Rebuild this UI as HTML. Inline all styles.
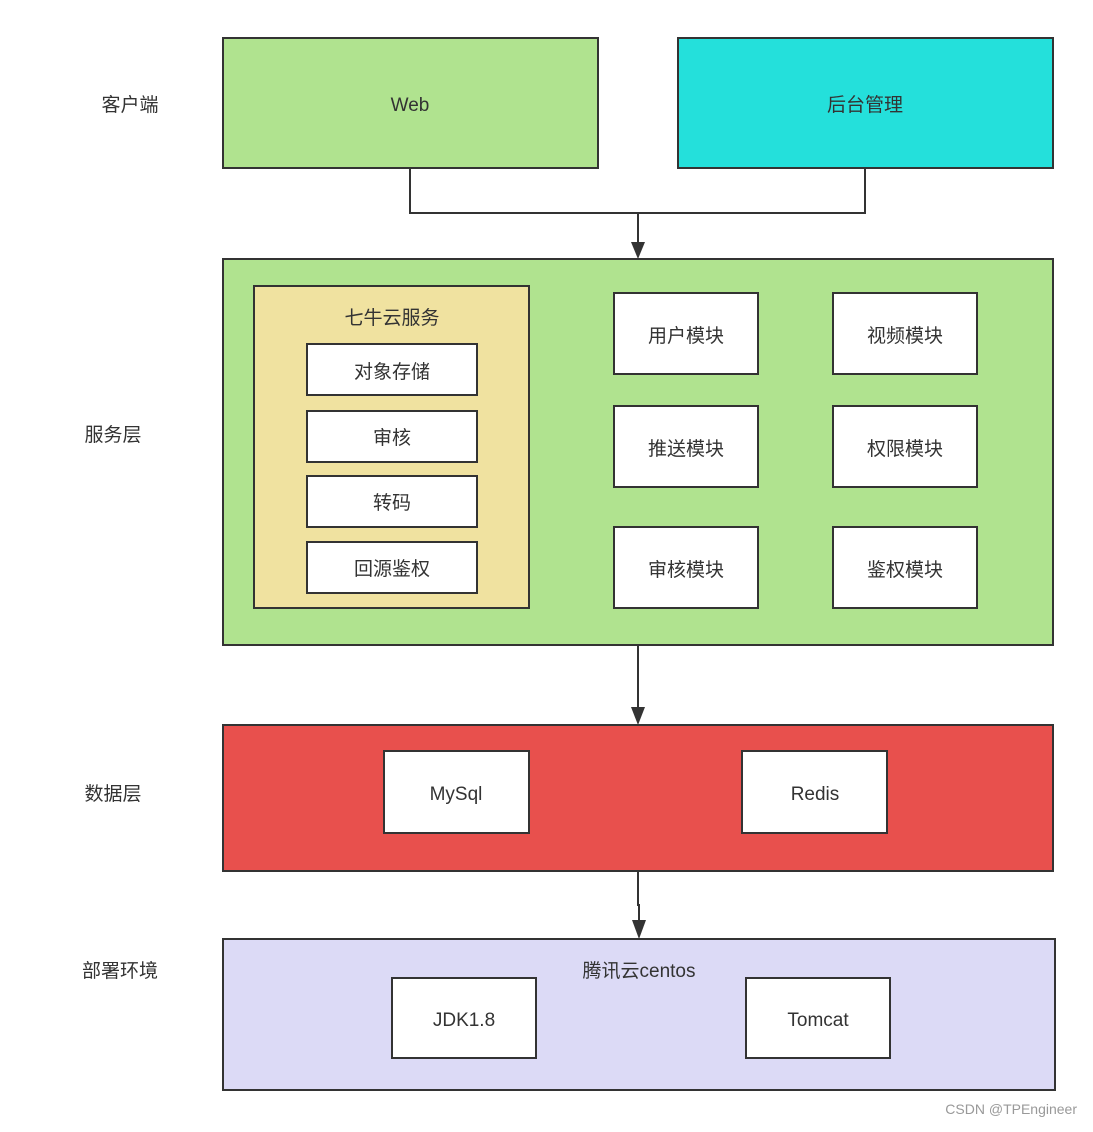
<!DOCTYPE html>
<html><head><meta charset="utf-8"><style>
html,body{margin:0;padding:0;background:#fff;}
svg text{font-family:"Liberation Sans","Noto Sans CJK SC",sans-serif;font-size:19px;fill:#333;}
</style></head><body>
<svg width="1093" height="1127" viewBox="0 0 1093 1127" xmlns="http://www.w3.org/2000/svg">
<g stroke="#333" stroke-width="2">
<rect x="223" y="38" width="375" height="130" fill="#b0e38f"/>
<rect x="678" y="38" width="375" height="130" fill="#24e0db"/>
<rect x="223" y="259" width="830" height="386" fill="#b0e38f"/>
<rect x="254" y="286" width="275" height="322" fill="#f0e2a0"/>
<rect x="307" y="344" width="170" height="51" fill="#fff"/>
<rect x="307" y="411" width="170" height="51" fill="#fff"/>
<rect x="307" y="476" width="170" height="51" fill="#fff"/>
<rect x="307" y="542" width="170" height="51" fill="#fff"/>
<rect x="614" y="293" width="144" height="81" fill="#fff"/>
<rect x="833" y="293" width="144" height="81" fill="#fff"/>
<rect x="614" y="406" width="144" height="81" fill="#fff"/>
<rect x="833" y="406" width="144" height="81" fill="#fff"/>
<rect x="614" y="527" width="144" height="81" fill="#fff"/>
<rect x="833" y="527" width="144" height="81" fill="#fff"/>
<rect x="223" y="725" width="830" height="146" fill="#e8504d"/>
<rect x="384" y="751" width="145" height="82" fill="#fff"/>
<rect x="742" y="751" width="145" height="82" fill="#fff"/>
<rect x="223" y="939" width="832" height="151" fill="#dcdaf6"/>
<rect x="392" y="978" width="144" height="80" fill="#fff"/>
<rect x="746" y="978" width="144" height="80" fill="#fff"/>
<polyline points="410,168 410,213 865,213 865,168" fill="none"/>
<line x1="638" y1="213" x2="638" y2="244"/>
<line x1="638" y1="645" x2="638" y2="708"/>
<polyline points="638,871 638,905 639,905 639,922" fill="none"/>
</g>
<g fill="#333">
<polygon points="631,242 645,242 638,259"/>
<polygon points="631,707 645,707 638,725"/>
<polygon points="632,920 646,920 639,939"/>
</g>
<g text-anchor="middle">
<text x="130" y="111">客户端</text>
<text x="113" y="441">服务层</text>
<text x="113" y="800">数据层</text>
<text x="120" y="977">部署环境</text>
<text x="410" y="111">Web</text>
<text x="865" y="111">后台管理</text>
<text x="392" y="324">七牛云服务</text>
<text x="392" y="378">对象存储</text>
<text x="392" y="444">审核</text>
<text x="392" y="509">转码</text>
<text x="392" y="575">回源鉴权</text>
<text x="686" y="342">用户模块</text>
<text x="905" y="342">视频模块</text>
<text x="686" y="455">推送模块</text>
<text x="905" y="455">权限模块</text>
<text x="686" y="576">审核模块</text>
<text x="905" y="576">鉴权模块</text>
<text x="456" y="800">MySql</text>
<text x="815" y="800">Redis</text>
<text x="639" y="977">腾讯云centos</text>
<text x="464" y="1026">JDK1.8</text>
<text x="818" y="1026">Tomcat</text>
</g>
<text x="1077" y="1114" text-anchor="end" style="font-size:14px;fill:#999">CSDN @TPEngineer</text>
</svg>
</body></html>
